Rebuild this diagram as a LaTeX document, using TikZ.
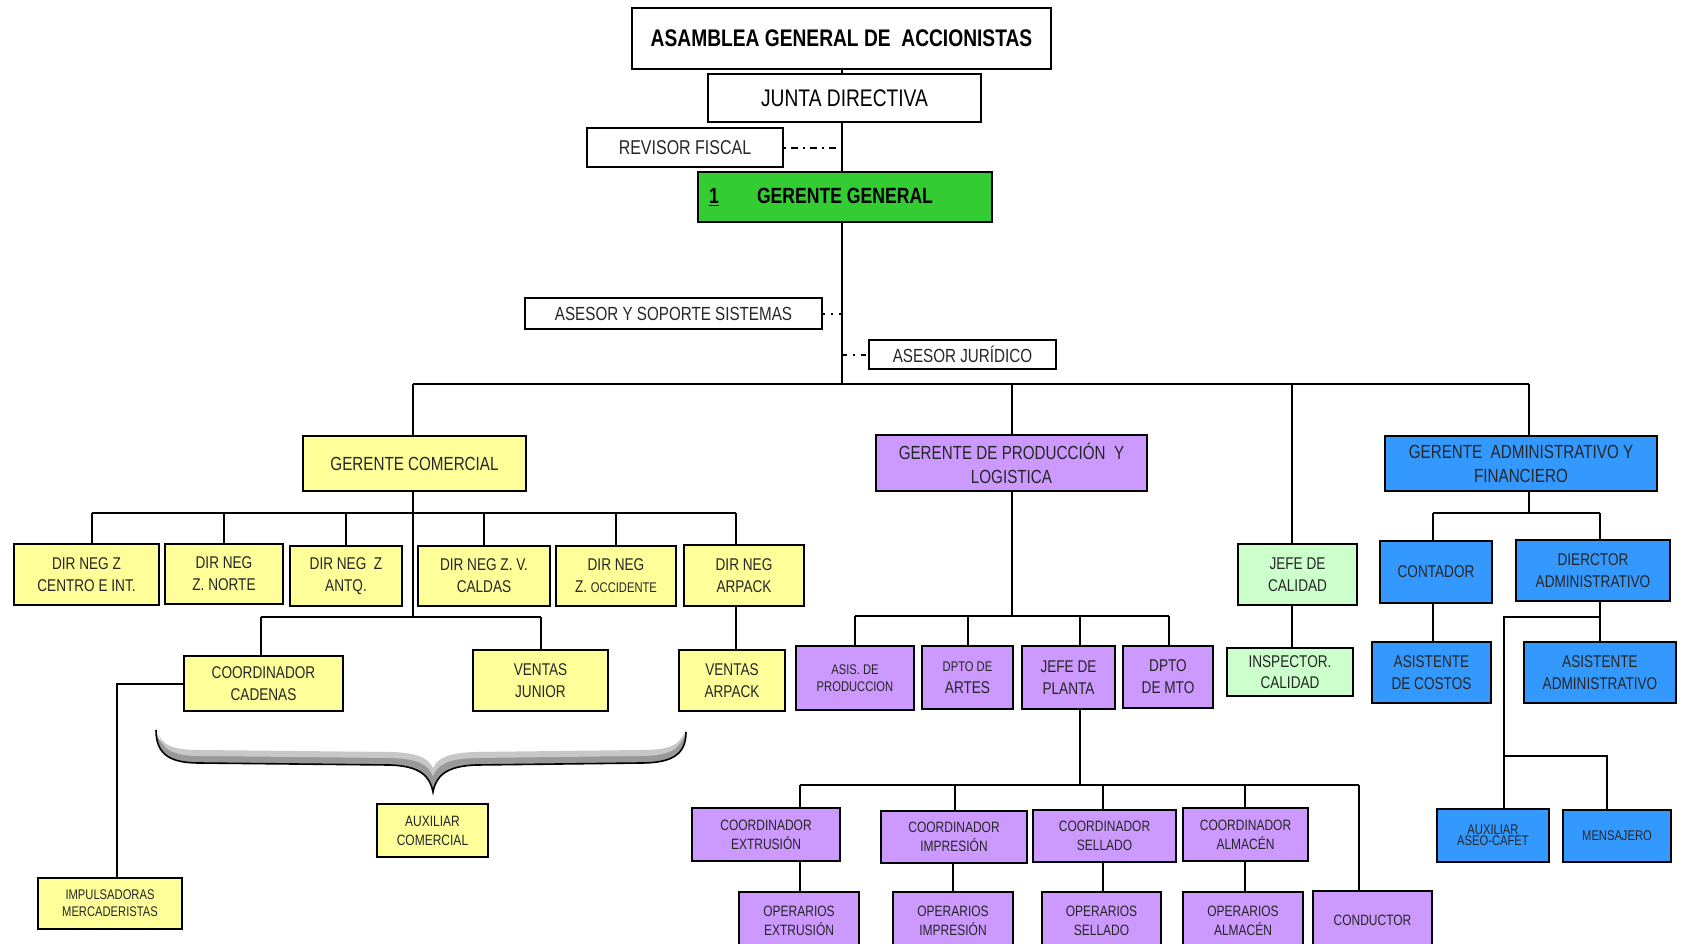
\documentclass[tikz,border=0pt]{standalone}
\usepackage{fontspec}
\setmainfont[FakeStretch=0.8]{Liberation Sans}
\usetikzlibrary{calc}

\definecolor{cyel}{HTML}{FFFF99}
\definecolor{cpur}{HTML}{CC99FF}
\definecolor{cblu}{HTML}{3399FF}
\definecolor{cgrn}{HTML}{33CC33}
\definecolor{clgr}{HTML}{CCFFCC}

\tikzset{
  box/.style={draw=black, line width=2.4pt, align=center, inner sep=1pt,
    text=black!85, font=\fontsize{17}{22}\selectfont},
  bw/.style={box, fill=white},
  by/.style={box, fill=cyel},
  bp/.style={box, fill=cpur},
  bb/.style={box, fill=cblu},
  bg/.style={box, fill=clgr},
  sz/.style n args={2}{minimum width=#1pt, minimum height=#2pt},
  small/.style={font=\fontsize{15}{19}\selectfont},
  tiny/.style={font=\fontsize{14}{17}\selectfont},
  conn/.style={draw=black, line width=2pt},
  dashdot/.style={conn, dash pattern=on 2pt off 5pt on 7pt off 5pt},
  dotline/.style={conn, dash pattern=on 2pt off 6pt},
}

\begin{document}
\begin{tikzpicture}[x=1pt, y=-1pt]
\useasboundingbox (0,0) rectangle (1689,943);

% ---------- top of the hierarchy ----------
\node[bw, sz={419}{61}, font=\bfseries\fontsize{24}{28}\selectfont, text=black]
  (asamblea) at (841.5,38.5) {ASAMBLEA GENERAL DE \ ACCIONISTAS};
\node[bw, sz={273}{48}, font=\fontsize{24}{28}\selectfont, text=black]
  (junta) at (844.5,98) {JUNTA DIRECTIVA};
\node[bw, sz={196}{39}, font=\fontsize{20}{24}\selectfont]
  (revisor) at (685,147.5) {REVISOR FISCAL};
\node[box, fill=cgrn, sz={294}{50}, font=\bfseries\fontsize{22}{26}\selectfont, text=black]
  (gg) at (845,197) {\llap{\underline{1}\hspace{38pt}}GERENTE GENERAL};
\node[bw, sz={297}{31}, font=\fontsize{19}{22}\selectfont]
  (sist) at (673.5,313.5) {ASESOR Y SOPORTE SISTEMAS};
\node[bw, sz={187}{29}, font=\fontsize{19}{22}\selectfont]
  (jur) at (962.5,354.5) {ASESOR JUR\'IDICO};

% spine and main bus
\coordinate (sp) at (842,0);
\coordinate (bL) at (413,384);
\coordinate (bR) at (1529,384);

% ---------- second level ----------
\node[by, sz={223}{55}, font=\fontsize{19}{23}\selectfont]
  (gcom) at (414.5,463.5) {GERENTE COMERCIAL};
\node[bp, sz={271}{56}, font=\fontsize{19}{24}\selectfont]
  (gprod) at (1011.5,463) {GERENTE DE PRODUCCI\'ON \ Y\\LOGISTICA};
\node[bb, sz={272}{55}, font=\fontsize{19}{24}\selectfont]
  (gadm) at (1521,463.5) {GERENTE \ ADMINISTRATIVO Y\\FINANCIERO};
\node[bg, sz={119}{61}] (jcal) at (1297.5,574.5) {JEFE DE\\CALIDAD};
\node[bg, sz={126}{48}, font=\fontsize{17}{21}\selectfont] (insp) at (1290,672) {INSPECTOR.\\CALIDAD};

% ---------- commercial area ----------
\node[by, sz={145}{61}] (d1) at (86.5,574.5) {DIR NEG Z\\CENTRO E INT.};
\node[by, sz={118}{60}] (d2) at (224,574) {DIR NEG\\Z. NORTE};
\node[by, sz={112}{60}] (d3) at (346,576) {DIR NEG \ Z\\ANTQ.};
\node[by, sz={132}{60}] (d4) at (484,576) {DIR NEG Z. V.\\CALDAS};
\node[by, sz={120}{60}] (d5) at (616,576) {DIR NEG\\Z. {\fontsize{14}{22}\selectfont OCCIDENTE}};
\node[by, sz={120}{61}] (d6) at (744,575.5) {DIR NEG\\ARPACK};
\node[by, sz={159}{55}] (cc) at (263.5,683.5) {COORDINADOR\\CADENAS};
\node[by, sz={135}{61}] (vj) at (540.5,680.5) {VENTAS\\JUNIOR};
\node[by, sz={106}{61}] (va) at (732,680.5) {VENTAS\\ARPACK};
\node[by, sz={144}{51}, tiny] (imp) at (110,903.5) {IMPULSADORAS\\MERCADERISTAS};
\node[by, sz={111}{53}, small] (aux1) at (432.5,830.5) {AUXILIAR\\COMERCIAL};

% ---------- production area ----------
\node[bp, sz={118}{64}, tiny] (asis) at (855,678) {ASIS. DE\\PRODUCCION};
\node[bp, sz={91}{63}] (artes) at (967.5,677.5) {{\fontsize{14}{17}\selectfont DPTO DE}\\ARTES};
\node[bp, sz={93}{63}] (jp) at (1068.5,677.5) {JEFE DE\\PLANTA};
\node[bp, sz={90}{62}] (mto) at (1168,677) {DPTO\\DE MTO};
\node[bp, sz={148}{53}, small] (cext) at (766,834.5) {COORDINADOR\\EXTRUSI\'ON};
\node[bp, sz={146}{52}, small] (cimp) at (954,837) {COORDINADOR\\IMPRESI\'ON};
\node[bp, sz={143}{52}, small] (csel) at (1104.5,836) {COORDINADOR\\SELLADO};
\node[bp, sz={125}{53}, small] (calm) at (1245.5,834.5) {COORDINADOR\\ALMAC\'EN};
\node[bp, sz={120}{58}, small] (oext) at (799,921) {OPERARIOS\\EXTRUSI\'ON};
\node[bp, sz={120}{58}, small] (oimp) at (953,921) {OPERARIOS\\IMPRESI\'ON};
\node[bp, sz={119}{58}, small] (osel) at (1101.5,921) {OPERARIOS\\SELLADO};
\node[bp, sz={120}{58}, small] (oalm) at (1243,921) {OPERARIOS\\ALMAC\'EN};
\node[bp, sz={119}{59}, small] (cond) at (1372.5,920.5) {CONDUCTOR};

% ---------- administrative area ----------
\node[bb, sz={112}{62}] (cont) at (1436,572) {CONTADOR};
\node[bb, sz={154}{61}] (dir) at (1593,570.5) {DIERCTOR\\ADMINISTRATIVO};
\node[bb, sz={119}{61}] (acost) at (1431.5,672.5) {ASISTENTE\\DE COSTOS};
\node[bb, sz={152}{61}] (aadm) at (1600,672.5) {ASISTENTE\\ADMINISTRATIVO};
\node[bb, sz={112}{53}, font=\fontsize{14}{11}\selectfont] (aux2) at (1493,835.5) {AUXILIAR\\ASEO-CAFET};
\node[bb, sz={108}{52}, tiny] (mens) at (1617,836) {MENSAJERO};

% ---------- connectors: top ----------
\draw[conn] (asamblea.south -| sp) -- (junta.north -| sp);
\draw[conn] (junta.south -| sp) -- (gg.north -| sp);
\draw[conn] (gg.south -| sp) -- (sp |- bL);
\draw[dashdot] (revisor.east) -- (revisor.east -| sp);
\draw[dotline] (sist.east) -- (sist.east -| sp);
\draw[conn, dash pattern=on 5pt off 6pt on 2pt off 6pt] (jur.west -| sp) -- (jur.west);

% main bus and its branches
\draw[conn] (bL) -- (bR);
\draw[conn] (bL) -- (bL |- gcom.north);
\draw[conn] (gprod.north |- bL) -- (gprod.north);
\draw[conn] ([xshift=-6pt]jcal.north |- bL) -- ([xshift=-6pt]jcal.north);
\draw[conn] (bR) -- (bR |- gadm.north);
\draw[conn] ([xshift=-6pt]jcal.south) -- ([xshift=-6pt]jcal.south |- insp.north);

% ---------- connectors: commercial ----------
\coordinate (cb) at (0,513);
\coordinate (cb2) at (0,617);
\draw[conn] ([xshift=5pt]d1.north |- cb) -- ([xshift=-8pt]d6.north |- cb);
\draw[conn] ([xshift=5pt]d1.north |- cb) -- ([xshift=5pt]d1.north);
\foreach \n in {d2,d3,d4,d5}
  \draw[conn] (\n.north |- cb) -- (\n.north);
\draw[conn] ([xshift=-8pt]d6.north |- cb) -- ([xshift=-8pt]d6.north);
\draw[conn] (bL |- gcom.south) -- (bL |- cb2);
\draw[conn] ([xshift=-3pt]cc.north |- cb2) -- (vj.north |- cb2);
\draw[conn] ([xshift=-3pt]cc.north |- cb2) -- ([xshift=-3pt]cc.north);
\draw[conn] (vj.north |- cb2) -- (vj.north);
\draw[conn] ([xshift=-8pt]d6.south) -- ([xshift=-8pt]d6.south |- va.north);
\draw[conn] (cc.west) -| ([xshift=7pt]imp.north);

% brace over the commercial staff
\path[fill=black!40]
  (156,728) .. controls (158,748) and (172,752) .. (200,752)
  -- (392,754) .. controls (420,755) and (430,762) .. (433,776)
  .. controls (436,762) and (446,755) .. (474,754)
  -- (640,752) .. controls (670,752) and (682,748) .. (686,730)
  .. controls (686,756) and (670,763) .. (640,763)
  -- (476,765) .. controls (446,766) and (436,776) .. (433,792)
  .. controls (430,776) and (420,766) .. (390,765)
  -- (200,763) .. controls (172,763) and (156,756) .. (156,728) -- cycle;
\path[fill=black!22]
  (158,730) .. controls (160,746) and (174,750) .. (200,750)
  -- (392,752) .. controls (418,753) and (428,758) .. (433,768)
  .. controls (438,758) and (448,753) .. (474,752)
  -- (640,750) .. controls (668,750) and (680,746) .. (684,732)
  .. controls (682,750) and (668,756) .. (640,756)
  -- (474,758) .. controls (448,759) and (438,764) .. (433,776)
  .. controls (428,764) and (418,759) .. (392,758)
  -- (200,756) .. controls (174,756) and (160,750) .. (158,730) -- cycle;
\draw[black, line width=1.6pt]
  (156,730) .. controls (156,756) and (172,763) .. (200,763)
  -- (390,765) .. controls (420,766) and (430,776) .. (433,792)
  .. controls (436,776) and (446,766) .. (476,765)
  -- (640,763) .. controls (670,763) and (686,756) .. (686,732);

% ---------- connectors: production ----------
\coordinate (pb) at (0,616);
\coordinate (pb2) at (0,785);
\coordinate (jx) at (1080,0);
\draw[conn] (gprod.south) -- (gprod.south |- pb);
\draw[conn] (asis.north |- pb) -- ([xshift=1pt]mto.north |- pb);
\draw[conn] (asis.north |- pb) -- (asis.north);
\draw[conn] (artes.north |- pb) -- (artes.north);
\draw[conn] (jp.north -| jx) -- (jx |- pb);
\draw[conn] ([xshift=1pt]mto.north |- pb) -- ([xshift=1pt]mto.north);
\draw[conn] (jp.south -| jx) -- (jx |- pb2);
\coordinate (e1) at (800,785);
\coordinate (e2) at (955,785);
\coordinate (e3) at (1103,785);
\coordinate (e4) at (1245,785);
\coordinate (e5) at (1359,785);
\draw[conn] (e1) -- (e5);
\draw[conn] (e1) -- (e1 |- cext.north);
\draw[conn] (e2) -- (e2 |- cimp.north);
\draw[conn] (e3) -- (e3 |- csel.north);
\draw[conn] (e4) -- (e4 |- calm.north);
\draw[conn] (e5) -- (e5 |- cond.north);
\draw[conn] (e1 |- cext.south) -- (e1 |- oext.north);
\draw[conn] (cimp.south -| oimp.north) -- (oimp.north);
\draw[conn] (e3 |- csel.south) -- (e3 |- osel.north);
\draw[conn] (e4 |- calm.south) -- (e4 |- oalm.north);

% ---------- connectors: administration ----------
\coordinate (a1) at (1433,513);
\coordinate (a2) at (1600,513);
\coordinate (j1) at (1600,617);
\coordinate (j2) at (1504,617);
\coordinate (j3) at (1504,756);
\coordinate (j4) at (1607,756);
\draw[conn] (bR |- gadm.south) -- (bR |- a1);
\draw[conn] (a1) -- (a2);
\draw[conn] (a1) -- (a1 |- cont.north);
\draw[conn] (a2) -- (a2 |- dir.north);
\draw[conn] (a1 |- cont.south) -- (a1 |- acost.north);
\draw[conn] (a2 |- dir.south) -- (a2 |- aadm.north);
\draw[conn] (j1) -- (j2) -- (j2 |- aux2.north);
\draw[conn] (j3) -- (j4) -- (j4 |- mens.north);
\end{tikzpicture}
\end{document}
